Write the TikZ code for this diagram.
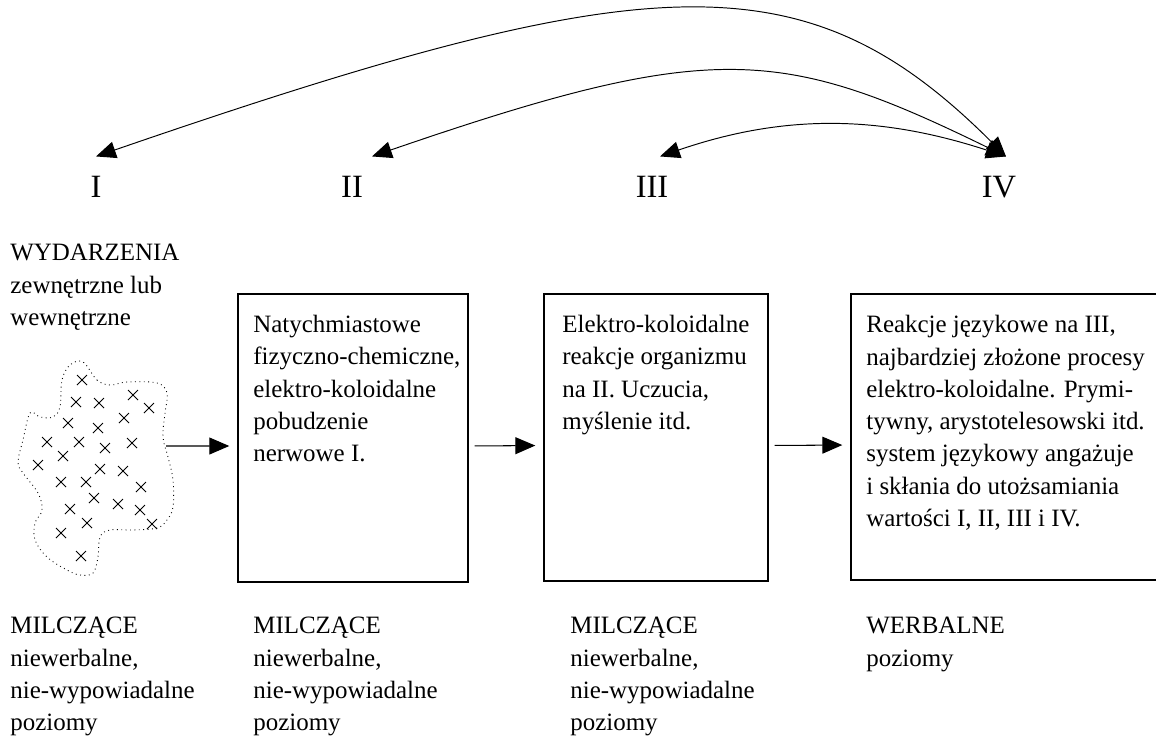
\documentclass[tikz,border=0pt]{standalone}
\usepackage{fontspec}
\setmainfont{Liberation Serif}
\usetikzlibrary{arrows.meta}

\begin{document}
\begin{tikzpicture}[x=0.02cm,y=-0.02cm,
		txt/.style={anchor=north west,inner sep=0pt,align=left,font=\fontsize{14.2}{18.4}\selectfont},
		box/.style={draw,line width=0.85pt,inner sep=0pt},
		num/.style={inner xsep=0pt,inner ysep=0.39cm,text height=12.2pt,text depth=0pt,font=\fontsize{18.5}{22}\selectfont},
		flow/.style={-{Triangle[length=11.3pt,width=9.6pt]},line width=0.6pt,shorten <=0.12cm,shorten >=0.16cm},
		feedback/.style={{Triangle[length=11.3pt,width=9.6pt]}-{Triangle[length=11.3pt,width=9.6pt]},line width=0.55pt}]
			\useasboundingbox (0,0) rectangle (1156,741);
			\clip (0,0) rectangle (1156,741);
			% poziomy I--IV
			\node[num] (n1) at (96,187) {I};
			\node[num] (n2) at (352,187) {II};
			\node[num] (n3) at (652,187) {III};
			\node[num] (n4) at (999,187) {IV};
			\draw[feedback] ([xshift=0.14cm]n4.north) .. controls +(-200,-200) and +(557,-192) .. (n1.north);
			\draw[feedback] ([xshift=0.14cm]n4.north) .. controls +(-225,-110) and +(340,-117) .. ([xshift=0.4cm]n2.north);
			\draw[feedback] ([xshift=0.14cm]n4.north) .. controls +(-125,-41) and +(125,-43) .. ([xshift=0.16cm]n3.north);
			% wydarzenia
			\node[txt,font=\fontsize{14.2}{18.5}\selectfont] (ev) at (10,244) {WYDARZENIA\\zewnętrzne lub\\wewnętrzne};
			\draw[dotted,line width=0.5pt] plot[smooth cycle,tension=0.6] coordinates {(83,362) (97,380) (110,385) (127,382) (157,383) (167,393) (165,413) (163,437) (168,457) (173,480) (173,507) (167,520) (157,528) (133,530) (110,530) (100,537) (98,557) (93,573) (80,575) (67,570) (47,557) (35,540) (35,523) (42,510) (38,493) (23,473) (18,462) (23,440) (30,413) (40,417) (53,417) (60,407) (62,380) (70,365)};
			\foreach \p in {(82,380),(76,402),(99,403),(133,395),(149,408),(68,423),(98,428),(124,418),(47,442),(79,442),(105,448),(132,443),(63,456),(38,465),(100,469),(123,471),(61,482),(86,482),(141,487),(94,498),(118,504),(140,510),(70,509),(87,523),(152,524),(61,533),(81,556)}{
				\draw[line width=0.5pt] \p +(-5,-5) -- +(5,5) \p +(-5,5) -- +(5,-5);
			}
			\coordinate (blob) at (160,446);
			% bloki
			\node[box,minimum width=4.6cm,minimum height=5.76cm] (b1) at (353,438) {};
			\node[box,minimum width=4.48cm,minimum height=5.74cm] (b2) at (656,437.5) {};
			\node[box,minimum width=6.48cm,minimum height=5.72cm] (b3) at (1013,437) {};
			\node[txt] (t1) at (253,315) {Natychmiastowe\\fizyczno-chemiczne,\\elektro-koloidalne\\pobudzenie\\nerwowe I.};
			\node[txt] (t2) at (562,315) {Elektro-koloidalne\\reakcje organizmu\\na II. Uczucia,\\myślenie itd.};
			\node[txt] (t3) at (866,315) {Reakcje językowe na III,\\najbardziej złożone procesy\\elektro-koloidalne. Prymi-\\tywny, arystotelesowski itd.\\system językowy angażuje\\i skłania do utożsamiania\\wartości I, II, III i IV.};
			\draw[flow] (blob) -- ([yshift=-0.16cm]b1.west);
			\draw[flow] ([yshift=-0.16cm]b1.east) -- ([yshift=-0.16cm]b2.west);
			\draw[flow] ([yshift=-0.16cm]b2.east) -- ([yshift=-0.16cm]b3.west);
			% poziomy
			\node[txt] (p0) at (10,617) {MILCZĄCE\\niewerbalne,\\nie-wypowiadalne\\poziomy};
			\node[txt] (p1) at (253,617) {MILCZĄCE\\niewerbalne,\\nie-wypowiadalne\\poziomy};
			\node[txt] (p2) at (570,617) {MILCZĄCE\\niewerbalne,\\nie-wypowiadalne\\poziomy};
			\node[txt] (p3) at (866,617) {WERBALNE\\poziomy};
		\end{tikzpicture}
\end{document}
